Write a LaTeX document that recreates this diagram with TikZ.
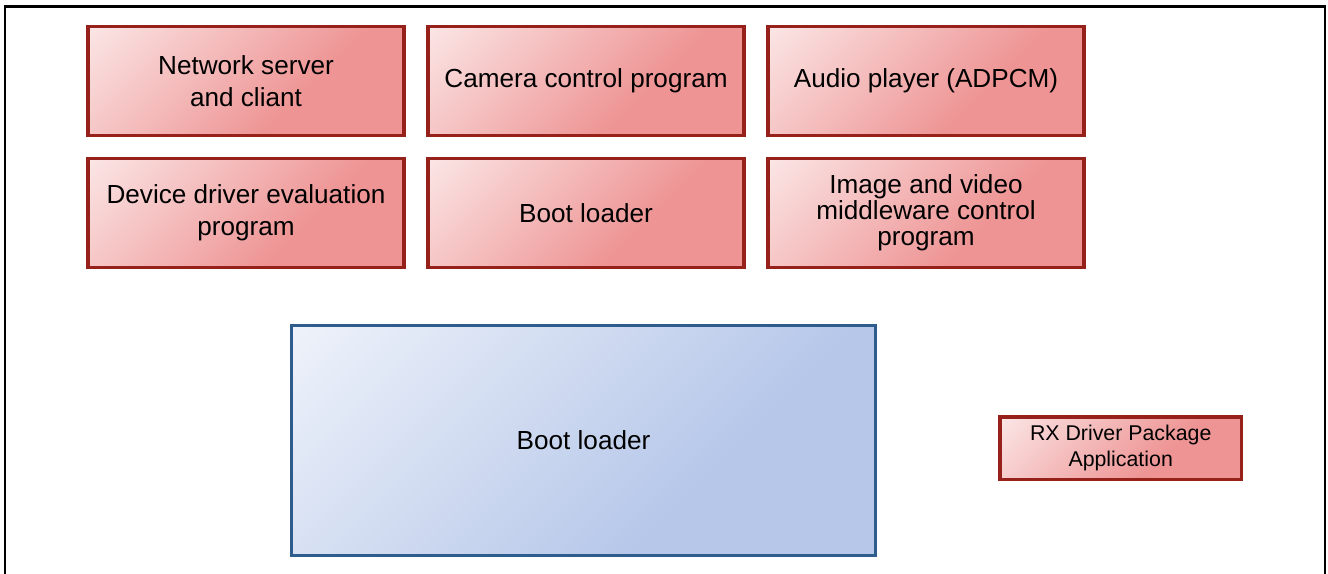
\documentclass[tikz,border=0pt]{standalone}
\usepackage{fontspec}
\setmainfont{Liberation Sans}
\definecolor{redfill}{RGB}{238,148,148}
\definecolor{redline}{RGB}{150,32,26}
\definecolor{bluefill}{RGB}{182,199,233}
\definecolor{blueline}{RGB}{46,92,140}
\pgfdeclareverticalshading{redglow}{100bp}{color(0bp)=(redfill); color(38bp)=(redfill); color(100bp)=(white)}
\pgfdeclareverticalshading{blueglow}{100bp}{color(0bp)=(bluefill); color(36bp)=(bluefill); color(100bp)=(white)}
\tikzset{every picture/.style={line width=0.75pt}}
\tikzset{
  progbox/.style={draw=redline, line width=2.6pt, shading=redglow, shading angle=45,
    minimum width=237pt, minimum height=81.75pt, align=center, inner sep=2pt,
    font=\fontsize{19.6pt}{23.8pt}\selectfont},
  loaderbox/.style={draw=blueline, line width=2.4pt, shading=blueglow, shading angle=45,
    minimum width=438pt, minimum height=172.5pt, align=center,
    font=\fontsize{19.6pt}{23.8pt}\selectfont},
  legendbox/.style={draw=redline, line width=2.4pt, shading=redglow, shading angle=45,
    minimum width=181pt, minimum height=47pt, align=center, inner sep=1pt,
    font=\fontsize{16pt}{19.5pt}\selectfont}
}

\begin{document}
\begin{tikzpicture}[x=0.75pt,y=0.75pt,yscale=-1,xscale=1]
\useasboundingbox (0,0) rectangle (1328,574);

% Frame
\draw [line width=1.6pt] (5,574) -- (5,6.5) -- (1325,6.5) -- (1325,574) ;

% Text Node
\node [progbox] (netserver) at (246,80.8) {Network server\\and cliant};
% Text Node
\node [progbox] (camctrl) at (586,80.8) {Camera control program};
% Text Node
\node [progbox] (audio) at (926,80.8) {Audio player (ADPCM)};
% Text Node
\node [progbox] (devdrv) at (246,213) {Device driver evaluation\\program};
% Text Node
\node [progbox] (bootapp) at (586,213) {Boot loader};
% Text Node
\node [progbox, font=\fontsize{19.6pt}{19.5pt}\selectfont] (imgvideo) at (926,213) {Image and video\\middleware control\\program};

% Text Node
\node [loaderbox] (bootloader) at (583.5,440.5) {Boot loader};

% Text Node
\node [legendbox] (legend) at (1120.7,448.3) {RX Driver Package\\Application};

\end{tikzpicture}
\end{document}
